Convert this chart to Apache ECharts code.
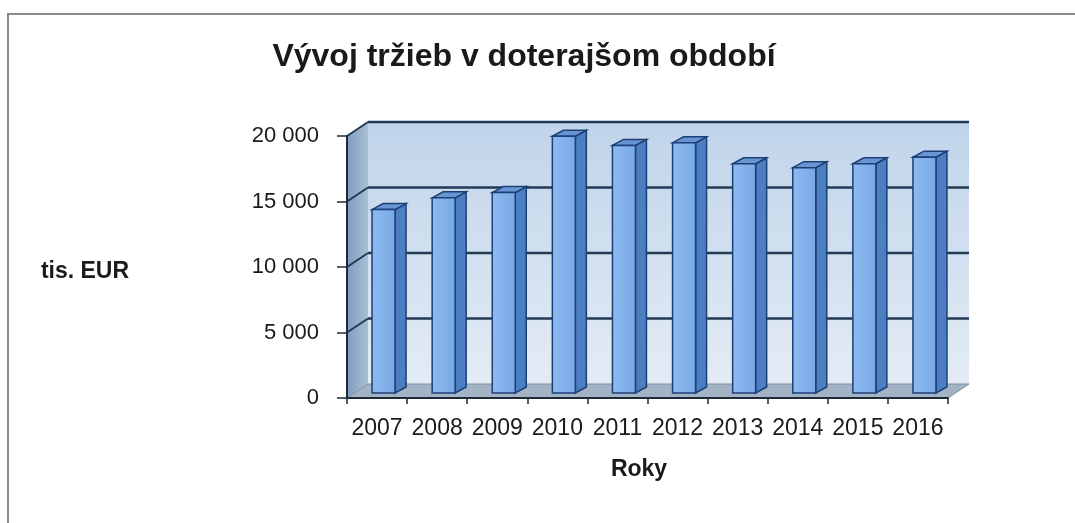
<!DOCTYPE html>
<html>
<head>
<meta charset="utf-8">
<script src="https://cdn.jsdelivr.net/npm/echarts@6/dist/echarts.min.js"></script>
<style>
html,body{margin:0;padding:0;background:#fff;}
#chart{width:1075px;height:523px;}
</style>
</head>
<body>
<div id="chart"></div>
<script>
// data (tis. EUR)
var years = ['2007', '2008', '2009', '2010', '2011', '2012', '2013', '2014', '2015', '2016'];
var sales = [14000, 14900, 15300, 19600, 18900, 19100, 17500, 17200, 17500, 18000];
var yTicks = [0, 5000, 10000, 15000, 20000];

var FONT = '"Liberation Sans", Arial, sans-serif';
var DEPTH_X = 21, DEPTH_Y = -14;   // wall depth

function fmt(v){
  return String(v).replace(/\B(?=(\d{3})+(?!\d))/g, ' ');
}

// back wall, left wall, floor and gridlines
function renderWalls(params, api){
  var bw = api.size([1, 0])[0];
  var first = api.coord([0, 0]);
  var last = api.coord([years.length - 1, 0]);
  var L = first[0] - bw / 2, R = last[0] + bw / 2;
  var y0 = first[1];
  var yTop = api.coord([0, yTicks[yTicks.length - 1]])[1];
  var dx = DEPTH_X, dy = DEPTH_Y;
  var ch = [];
  ch.push({type:'polygon', shape:{points:[[L+dx, yTop+dy],[R+dx, yTop+dy],[R+dx, y0+dy],[L+dx, y0+dy]]},
    style:{fill:new echarts.graphic.LinearGradient(0,0,0,1,[{offset:0,color:'#c0d4ea'},{offset:1,color:'#e3ecf5'}])}});
  ch.push({type:'polygon', shape:{points:[[L, y0],[L, yTop],[L+dx, yTop+dy],[L+dx, y0+dy]]},
    style:{fill:new echarts.graphic.LinearGradient(0,0,1,0,[{offset:0,color:'#7f9dbf'},{offset:1,color:'#a9bfd6'}])}});
  ch.push({type:'polygon', shape:{points:[[L, y0],[R, y0],[R+dx, y0+dy],[L+dx, y0+dy]]},
    style:{fill:'#a3b3c5', stroke:'#7d8fa3', lineWidth:1}});
  for (var k = 1; k < yTicks.length; k++){
    var y = api.coord([0, yTicks[k]])[1];
    ch.push({type:'line', shape:{x1:L+dx, y1:y+dy, x2:R+dx, y2:y+dy}, style:{stroke:'#223a55', lineWidth:2.5}});
    ch.push({type:'line', shape:{x1:L, y1:y, x2:L+dx, y2:y+dy}, style:{stroke:'#223a55', lineWidth:2}});
  }
  return {type:'group', children:ch};
}

// 3d looking column
function renderBar(params, api){
  var i = api.value(0), v = api.value(1);
  var base = api.coord([i, 0]);
  var top = api.coord([i, v]);
  var x0 = base[0] - 5, x1 = x0 + 23;
  var yb = base[1] - 5, yt = top[1] - 5;
  var dx = 11, dy = -6;
  var edge = '#1c3f74';
  return {type:'group', children:[
    {type:'polygon', shape:{points:[[x1, yt],[x1+dx, yt+dy],[x1+dx, yb+dy],[x1, yb]]},
      style:{fill:'#4c7ec2', stroke:edge, lineWidth:1.5}},
    {type:'polygon', shape:{points:[[x0, yt],[x0+dx, yt+dy],[x1+dx, yt+dy],[x1, yt]]},
      style:{fill:'#6895d4', stroke:edge, lineWidth:1.5}},
    {type:'rect', shape:{x:x0, y:yt, width:x1-x0, height:yb-yt},
      style:{fill:new echarts.graphic.LinearGradient(0,0,1,0,[{offset:0,color:'#8dbaf0'},{offset:1,color:'#78a8e6'}]), stroke:edge, lineWidth:1.5}}
  ]};
}

var chart = echarts.init(document.getElementById('chart'));
var option = {
  backgroundColor: '#ffffff',
  animation: false,
  grid: {left: 347, right: 127, top: 136, bottom: 125},
  xAxis: {
    type: 'category',
    data: years,
    axisLine: {lineStyle: {color: '#1e2a36', width: 2}},
    axisTick: {show: true, length: 6, lineStyle: {color: '#1e2a36', width: 1.5}},
    axisLabel: {interval: 0, color: '#1a1a1a', fontSize: 23, fontFamily: FONT, margin: 19}
  },
  yAxis: {
    type: 'value',
    min: 0,
    max: 20000,
    interval: 5000,
    axisLine: {show: true, lineStyle: {color: '#1e2a36', width: 2}},
    axisTick: {show: true, length: 10, lineStyle: {color: '#1e2a36', width: 1.5}},
    splitLine: {show: false},
    axisLabel: {color: '#1a1a1a', fontSize: 22, fontFamily: FONT, margin: 28, formatter: fmt}
  },
  graphic: [
    {type:'rect', z:-10, shape:{x:8, y:14, width:1200, height:700}, style:{fill:'none', stroke:'#8a8a8a', lineWidth:2}},
    {type:'text', style:{text:'Vývoj tržieb v doterajšom období', x:524, y:57, textAlign:'center', textVerticalAlign:'middle', font:'bold 32px ' + FONT, fill:'#1a1a1a'}},
    {type:'text', style:{text:'tis. EUR', x:85, y:272, textAlign:'center', textVerticalAlign:'middle', font:'bold 23px ' + FONT, fill:'#1a1a1a'}},
    {type:'text', style:{text:'Roky', x:639, y:470, textAlign:'center', textVerticalAlign:'middle', font:'bold 23px ' + FONT, fill:'#1a1a1a'}}
  ],
  series: [
    {
      type: 'custom',
      name: 'walls',
      z: -1,
      silent: true,
      renderItem: renderWalls,
      data: [[0, 0]]
    },
    {
      type: 'custom',
      name: 'tržby',
      renderItem: renderBar,
      encode: {x: 0, y: 1},
      data: sales.map(function(v, i){ return [i, v]; })
    }
  ]
};
chart.setOption(option);
</script>
</body>
</html>
